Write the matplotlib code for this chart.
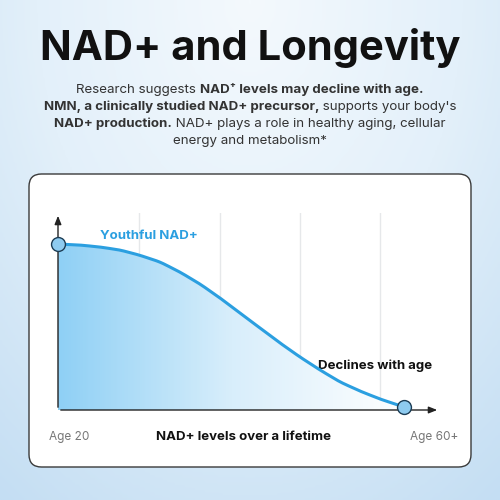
import numpy as np
import matplotlib
matplotlib.use("Agg")
import matplotlib.pyplot as plt
from matplotlib.patches import FancyBboxPatch, Polygon
from matplotlib.colors import LinearSegmentedColormap

ages = [20, 22.54, 24.86, 27.17, 29.36, 31.79, 34.10, 36.42, 38.73, 41.04, 43.35,
        45.66, 47.98, 50.29, 52.60, 54.91, 57.23, 58.96, 60]
nad = [100, 99.4, 98.2, 96.4, 93.4, 89.2, 83.1, 75.9, 67.5, 58.4, 49.4,
       40.4, 31.9, 24.1, 16.9, 11.4, 6.6, 3.6, 1.8]
grid_ages = [29.4, 38.7, 48.0, 57.2]
title = "NAD+ and Longevity"
para = [
    [("Research suggests ", "normal"), ("NAD⁺ levels may decline with age.", "bold")],
    [("NMN, a clinically studied NAD+ precursor,", "bold"), (" supports your body's", "normal")],
    [("NAD+ production.", "bold"), (" NAD+ plays a role in healthy aging, cellular", "normal")],
    [("energy and metabolism*", "normal")],
]

FONT = "Inter"
fig = plt.figure(figsize=(5, 5), dpi=100)

bg = fig.add_axes([0, 0, 1, 1], zorder=-10)
yy, xx = np.mgrid[0:1:200j, 0:1:200j]
d = np.sqrt(((xx - 0.5) * 1.3) ** 2 + (yy * 0.9) ** 2)
cm = LinearSegmentedColormap.from_list("bg", ["#f4f9fd", "#e3f0fa", "#c4def3"])
bg.imshow(d, cmap=cm, extent=[0, 1, 0, 1], origin="upper", aspect="auto")
bg.set_axis_off()

box = FancyBboxPatch((0.058, 0.066), 0.884, 0.586, boxstyle="round,pad=0,rounding_size=0.025",
                     transform=fig.transFigure, facecolor="white", edgecolor="#3a3a3a", lw=1.0, zorder=-5)
fig.patches.append(box)

fig.text(0.5, 0.905, title, ha="center", va="center", fontsize=30, fontweight="bold",
         family=FONT, color="#111111")

r = fig.canvas.get_renderer()
ys = [0.82, 0.786, 0.752, 0.718]
for line, y in zip(para, ys):
    ts = []
    for s, w in line:
        t = fig.text(0, y, s, fontsize=9.6, fontweight=w, family=[FONT, "DejaVu Sans"],
                     color="#333333", va="center")
        ts.append(t)
    widths = [t.get_window_extent(r).width for t in ts]
    total = sum(widths)
    x = 250 - total / 2
    for t, wd in zip(ts, widths):
        t.set_x(x / 500)
        x += wd

ax = fig.add_axes([0.116, 0.18, 0.764, 0.394])
ax.set_xlim(20, 64.16)
ax.set_ylim(0, 118.7)
ax.set_axis_off()
for g in grid_ages:
    ax.axvline(g, color="#e6e8ea", lw=1.0, zorder=0)
ax.annotate("", xy=(20, 118.7), xytext=(20, 0),
            arrowprops=dict(arrowstyle="-|>,head_width=0.2,head_length=0.5", color="#222", lw=1), zorder=3)
ax.annotate("", xy=(64.16, 0), xytext=(20, 0),
            arrowprops=dict(arrowstyle="-|>,head_width=0.2,head_length=0.5", color="#222", lw=1), zorder=3)

xs = np.linspace(20, 60, 300)
ysm = np.interp(xs, ages, nad)
k = np.ones(9) / 9
ysm_s = np.convolve(np.pad(ysm, 4, mode="edge"), k, mode="valid")
gx = np.linspace(0, 1, 300)
grad = np.tile(1 - gx, (10, 1))
gcm = LinearSegmentedColormap.from_list("g", ["#ffffff", "#d8eefb", "#8fd0f5"])
im = ax.imshow(grad, cmap=gcm, extent=[20, 60, 0, 100], aspect="auto", zorder=1)
poly = Polygon(np.column_stack([np.r_[xs, 60, 20], np.r_[ysm_s, 0, 0]]), transform=ax.transData)
im.set_clip_path(poly)
ax.plot(xs, ysm_s, color="#2b9fe0", lw=2.2, zorder=4)
ax.plot([ages[0], ages[-1]], [nad[0], nad[-1]], "o", ms=10, mfc="#8ecbf0", mec="#1d3d55",
        mew=1, zorder=5, clip_on=False)

ax.text(24.9, 105, "Youthful NAD+", color="#2b9fe0", fontsize=9.5, fontweight="bold", family=FONT, va="center")
ax.text(50, 26.5, "Declines with age", color="#111", fontsize=9.5, fontweight="bold", family=FONT, va="center")
fig.text(0.098, 0.126, "Age 20", fontsize=8.5, color="#777", family=FONT, va="center")
fig.text(0.486, 0.126, "NAD+ levels over a lifetime", fontsize=9.5, fontweight="bold", color="#111",
         family=FONT, va="center", ha="center")
fig.text(0.82, 0.126, "Age 60+", fontsize=8.5, color="#777", family=FONT, va="center")

fig.savefig("out.png", dpi=100)
